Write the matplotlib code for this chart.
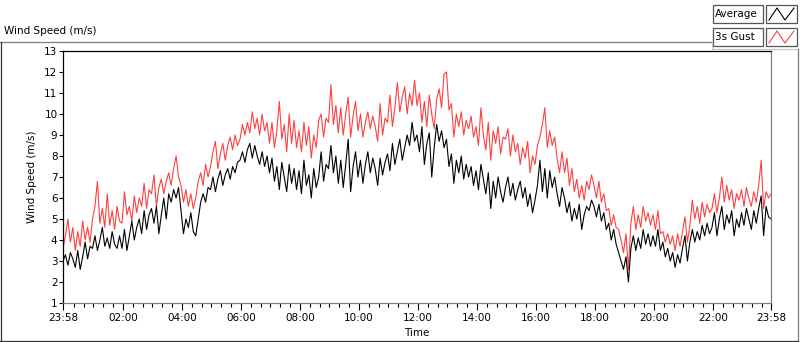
import numpy as np
import matplotlib
matplotlib.use("Agg")
import matplotlib.pyplot as plt
from matplotlib.lines import Line2D
from matplotlib.patches import Rectangle

# minutes after midnight, one sample every 5 min starting at 23:58 the day before
start_min = -2
step_min = 5

# Average wind speed (m/s), one row per hour
avg_speed = [
    3.0, 3.3, 2.8, 3.4, 3.1, 2.7, 3.5, 2.6, 3.2, 3.9, 3.1, 3.7,
    3.6, 4.2, 3.5, 4.0, 4.6, 3.7, 4.1, 3.6, 4.4, 3.8, 3.6, 4.2,
    3.6, 4.5, 3.5, 4.2, 4.9, 4.0, 4.6, 5.0, 4.3, 5.4, 4.5, 5.2,
    5.5, 4.8, 5.6, 4.3, 5.2, 6.0, 5.0, 6.2, 5.8, 6.4, 6.0, 6.5,
    5.4, 4.3, 5.0, 4.6, 5.3, 4.4, 4.2, 5.0, 5.8, 6.2, 5.8, 6.5,
    6.4, 7.0, 6.3, 6.9, 7.3, 6.6, 7.1, 7.4, 6.9, 7.5, 7.2, 7.7,
    7.8, 8.2, 7.7, 8.3, 8.6, 7.9, 8.5, 8.0, 7.6, 8.2, 7.5, 8.0,
    7.2, 7.9, 6.8, 7.5, 6.4, 7.7, 7.0, 6.3, 7.6, 6.7, 7.4, 6.4,
    7.3, 6.2, 7.8, 6.6, 7.1, 6.0, 7.4, 6.5, 7.0, 8.2, 6.8, 7.6,
    7.4, 8.5, 7.2, 8.0, 6.7, 7.8, 6.5, 7.6, 8.8, 6.3, 7.5, 8.2,
    7.0, 7.8, 6.7, 7.6, 8.2, 7.2, 7.9, 7.4, 6.6, 7.9, 7.1, 7.7,
    8.1, 7.3, 8.6, 7.6, 8.2, 8.8, 7.8, 8.4, 9.0, 8.5, 9.6, 8.7,
    9.0, 8.2, 9.4, 7.6, 8.6, 9.1, 7.0, 8.4, 9.5, 8.7, 9.2, 8.4,
    8.8, 7.5, 8.1, 6.7, 7.8, 7.2, 8.0, 6.9, 7.6, 7.0, 7.5, 6.6,
    7.3, 6.4, 7.6, 6.9, 6.2, 7.2, 5.5, 6.8, 6.0, 7.0, 6.3, 5.8,
    6.5, 7.0, 6.1, 6.7, 5.9, 6.4, 6.8, 6.0, 6.5, 5.6, 6.2, 5.3,
    5.9, 6.6, 7.8, 6.3, 7.4, 6.0, 7.3, 6.5, 7.0, 6.2, 5.6, 6.5,
    6.0, 5.3, 5.8, 4.9, 5.5, 5.0, 5.7, 4.5, 5.2, 5.6, 5.4, 5.9,
    5.6, 5.1, 5.7, 4.9, 5.3, 4.5, 4.8, 4.0, 4.5, 3.8, 3.4, 3.0,
    2.6, 3.2, 2.0, 3.6, 4.2, 3.5, 4.1, 3.6, 4.5, 3.8, 4.3, 3.7,
    4.2, 3.7, 4.5, 3.5, 3.9, 3.2, 3.6, 3.0, 3.4, 2.7, 3.3, 2.9,
    3.6, 4.2, 3.0, 3.9, 4.5, 3.9, 4.4, 4.0, 4.7, 4.2, 4.8, 4.3,
    4.6, 5.3, 4.2, 5.0, 5.6, 4.5, 5.2, 4.8, 5.4, 4.2, 5.0, 4.6,
    5.3, 4.7, 5.5, 5.0, 4.5, 5.4, 4.8, 5.5, 6.1, 4.2, 5.6, 5.1,
    5.0,
]

# 3 s gust (m/s), one row per hour
gust_speed = [
    3.6, 4.2, 5.0, 3.9, 4.6, 3.5, 4.4, 3.7, 4.9, 4.0, 4.6, 3.9,
    5.0, 5.6, 6.8, 4.8, 5.5, 4.6, 6.2, 4.7, 5.4, 4.5, 5.6, 4.9,
    4.8, 6.3, 5.2, 5.6, 4.9, 6.1, 5.3, 6.0, 5.6, 6.7, 5.5, 6.4,
    6.2, 7.1, 5.6, 6.5, 6.9, 6.2, 6.8, 7.2, 6.6, 7.4, 8.0, 7.0,
    6.6, 5.8, 6.4, 5.6, 6.2, 5.5, 6.0, 6.8, 7.2, 6.6, 7.6, 7.0,
    7.5, 8.2, 8.7, 7.4, 8.1, 8.6, 7.8, 8.5, 8.9, 8.3, 9.0, 8.5,
    8.8, 9.5, 9.0, 9.6, 9.1, 10.1, 9.3, 9.8, 9.0, 10.0, 9.2, 9.6,
    8.6, 9.6, 8.4, 9.2, 10.6, 8.8, 9.5, 8.2, 10.0, 8.6, 9.7, 8.4,
    9.2, 8.2, 9.6, 8.5, 9.4, 7.9, 9.0, 8.4, 9.7, 10.0, 8.9, 9.8,
    9.6, 11.4, 9.5, 10.4, 9.1, 10.3, 9.0, 10.0, 10.8, 8.9, 9.9, 10.6,
    9.2, 10.0, 8.9, 9.6, 10.1, 9.3, 9.9, 9.4, 8.7, 10.5, 9.0, 9.8,
    9.6, 10.9, 9.4, 10.3, 11.5, 10.1, 10.8, 11.3, 10.0, 11.0, 10.4, 11.6,
    10.4, 11.0, 9.6, 10.6, 9.4, 10.9, 10.0, 9.3, 10.7, 11.2, 10.3, 11.9,
    12.0, 10.2, 10.5, 8.9, 10.0, 9.4, 10.1, 9.0, 9.7, 9.3, 9.9, 8.9,
    9.4, 8.5, 10.3, 9.0, 8.3, 9.6, 7.8, 9.2, 8.6, 9.4, 8.1, 8.9,
    8.8, 9.3, 8.0, 9.0, 8.2, 8.6, 7.6, 8.4, 7.9, 8.7, 7.2, 8.0,
    7.6, 8.5, 8.9, 9.5, 10.3, 8.4, 9.2, 8.5, 8.9, 7.9, 7.2, 8.2,
    7.2, 7.9, 6.6, 7.4, 6.3, 6.9, 6.0, 6.6, 5.9, 6.8, 6.4, 7.1,
    6.6, 6.0, 6.8, 5.8, 6.2, 5.4, 5.5, 4.7, 5.2, 4.6, 4.5, 4.0,
    3.4, 4.3, 2.6, 4.8, 5.6, 4.5, 5.2, 4.6, 5.6, 4.9, 5.3, 4.7,
    5.2, 4.5, 5.4, 4.3, 4.4, 3.9, 4.3, 3.8, 4.2, 3.5, 4.3, 3.7,
    4.4, 5.1, 3.9, 4.7, 5.9, 5.0, 5.6, 4.8, 5.8, 5.1, 5.7, 5.3,
    5.5, 6.2, 5.3, 6.0, 7.0, 5.8, 6.6, 5.9, 6.4, 5.5, 6.2, 5.9,
    6.4, 5.6, 6.5, 6.0, 5.6, 6.3, 5.8, 6.6, 7.8, 5.5, 6.3, 6.0,
    6.2,
]

tick_minutes = [-2, 120, 240, 360, 480, 600, 720, 840, 960, 1080, 1200, 1320, 1438]
tick_labels = ["23:58", "02:00", "04:00", "06:00", "08:00", "10:00", "12:00",
               "14:00", "16:00", "18:00", "20:00", "22:00", "23:58"]
y_ticks = list(range(1, 14))

W, H = 800, 342
FS = 7.5
plt.rcParams["font.family"] = ["DejaVu Sans"]


def fx(x):
    return x / W


def fy(y):
    return 1 - y / H


def frame_line(fig, x0, y0, x1, y1, color="#7a7a7a"):
    fig.add_artist(Line2D([fx(x0), fx(x1)], [fy(y0), fy(y1)],
                          transform=fig.transFigure, color=color, lw=0.9))


fig = plt.figure(figsize=(W / 100, H / 100), dpi=100)
fig.patch.set_facecolor("white")

ax = fig.add_axes([fx(63), fy(303), (771 - 63) / W, (303 - 51) / H])

t = start_min + step_min * np.arange(len(avg_speed))
ax.plot(t, gust_speed, color="#ff4040", lw=0.8)
ax.plot(t, avg_speed, color="black", lw=0.8)

ax.set_xlim(-2, 1438)
ax.set_ylim(1, 13)
ax.set_xticks(tick_minutes)
ax.set_xticklabels(tick_labels, fontsize=FS)
minor = [m for m in range(20, 1440, 20) if m % 120 != 0]
ax.set_xticks(minor, minor=True)
ax.set_yticks(y_ticks)
ax.set_yticklabels([str(v) for v in y_ticks], fontsize=FS)
ax.tick_params(axis="x", which="major", length=5, width=0.8, pad=2)
ax.tick_params(axis="x", which="minor", length=3, width=0.8)
ax.tick_params(axis="y", length=3, width=0.8, pad=1)
for name, s in ax.spines.items():
    s.set_linewidth(0.9)
    s.set_color("black" if name in ("left", "top") else "#808080")

ax.set_xlabel("Time", fontsize=FS, labelpad=4)
ax.set_ylabel("Wind Speed (m/s)", fontsize=FS, labelpad=5)

# title and outer frame
fig.text(fx(4), fy(31), "Wind Speed (m/s)", fontsize=FS, va="center", ha="left")
frame_line(fig, 0, 42, 712, 42)
frame_line(fig, 712, 42, 712, 49, color="#c8c8c8")
frame_line(fig, 712, 49, 798, 49, color="#c8c8c8")
frame_line(fig, 798, 49, 798, 341)
frame_line(fig, 0.5, 42, 0.5, 341, color="#333333")
frame_line(fig, 0, 341, 798, 341, color="#333333")

# legend
for i, (name, col) in enumerate([("Average", "black"), ("3s Gust", "#ff4040")]):
    top = 5 + 23 * i
    fig.add_artist(Rectangle((fx(713), fy(top + 18)), 50 / W, 18 / H,
                             transform=fig.transFigure, facecolor="white",
                             edgecolor="#555555", lw=0.9))
    fig.add_artist(Rectangle((fx(766), fy(top + 18)), 31 / W, 18 / H,
                             transform=fig.transFigure, facecolor="white",
                             edgecolor="#555555", lw=0.9))
    fig.text(fx(715), fy(top + 9), name, fontsize=FS, va="center", ha="left")
    zx = [769, 777, 785, 794]
    zy = [top + 15, top + 3, top + 15, top + 3]
    fig.add_artist(Line2D([fx(v) for v in zx], [fy(v) for v in zy],
                          transform=fig.transFigure, color=col, lw=0.8))

fig.savefig("out.png", dpi=100)
